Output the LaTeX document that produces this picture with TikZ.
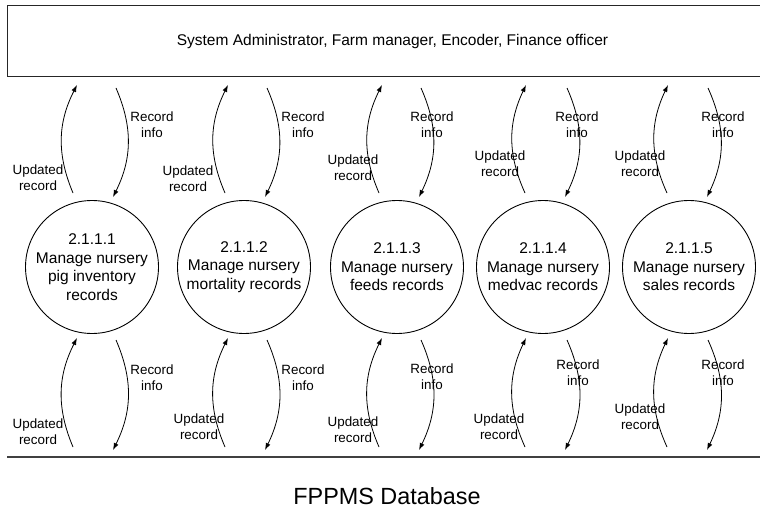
\documentclass[tikz,border=0pt]{standalone}
\usepackage{fontspec}
\setmainfont{Liberation Sans}
\usetikzlibrary{arrows.meta}
\begin{document}
\begin{tikzpicture}[x=1pt,y=1pt,
  proc/.style={circle,draw,line width=0.9pt,minimum size=133pt,inner sep=0pt,align=center,font=\fontsize{15.5}{18.5}\selectfont},
  flow/.style={line width=0.8pt,-{Latex[length=7pt,width=5pt]}},
  lbl/.style={align=center,font=\fontsize{13.4}{16}\selectfont,inner sep=0pt},
  boxline/.style={line width=1pt,black!85},
]
\useasboundingbox (0,0) rectangle (760,-508);
% external entity (box open to the right)
\coordinate (bx1) at (760,-6);
\coordinate (bx2) at (7,-6);
\coordinate (bx3) at (7,-77);
\coordinate (bx4) at (760,-77);
\draw[boxline] (bx1) -- (bx2) -- (bx3) -- (bx4);
\node[font=\fontsize{15.5}{18}\selectfont] (actors) at (392.5,-41) {System Administrator, Farm manager, Encoder, Finance officer};
% data store
\coordinate (ds1) at (7,-457);
\coordinate (ds2) at (760,-457);
\draw[line width=1.3pt,black!75] (ds1) -- (ds2);
\node[font=\fontsize{23.4}{28}\selectfont] (db) at (387,-496) {FPPMS Database};
% processes
\node[proc] (c1) at (92,-267) {2.1.1.1\\Manage nursery\\pig inventory\\records};
\node[proc] (c2) at (244,-267) {2.1.1.2\\Manage nursery\\mortality records};
\node[proc] (c3) at (397,-267) {2.1.1.3\\Manage nursery\\feeds records};
\node[proc] (c4) at (543,-267) {2.1.1.4\\Manage nursery\\medvac records};
\node[proc] (c5) at (689,-267) {2.1.1.5\\Manage nursery\\sales records};
% flows
\foreach \i/\a/\b/\c/\d in {1/-19/-15/24/21, 2/-19/-16/23/21, 3/-18/-15/24/22, 4/-18/-17/24/22, 5/-22/-21/19/18}{
  \path (c\i.center) ++(\a,74) coordinate (tus\i);
  \path (c\i.center) ++(\b,182) coordinate (tue\i);
  \path (c\i.center) ++(\c,179) coordinate (tds\i);
  \path (c\i.center) ++(\d,70) coordinate (tde\i);
  \path (c\i.center) ++(\a,-180) coordinate (bus\i);
  \path (c\i.center) ++(\b,-71) coordinate (bue\i);
  \path (c\i.center) ++(\c,-73) coordinate (bds\i);
  \path (c\i.center) ++(\d,-183) coordinate (bde\i);
  \draw[flow] (tus\i) to[bend left=25] (tue\i);
  \draw[flow] (tds\i) to[bend left=25] (tde\i);
  \draw[flow] (bus\i) to[bend left=25] (bue\i);
  \draw[flow] (bds\i) to[bend left=25] (bde\i);
}
% labels
\foreach \i/\x/\y in {1/152/-125, 2/303/-125, 3/432/-125, 4/577/-125, 5/723/-125}
  \node[lbl] (tri\i) at (\x,\y) {Record\\info};
\foreach \i/\x/\y in {1/38/-178, 2/188/-179, 3/353/-168, 4/500/-164, 5/640/-164}
  \node[lbl] (tur\i) at (\x,\y) {Updated\\record};
\foreach \i/\x/\y in {1/152/-378, 2/303/-378, 3/432/-377, 4/578/-373, 5/723/-373}
  \node[lbl] (bri\i) at (\x,\y) {Record\\info};
\foreach \i/\x/\y in {1/38/-432, 2/199/-427, 3/353/-430, 4/499/-427, 5/640/-417}
  \node[lbl] (bur\i) at (\x,\y) {Updated\\record};
\end{tikzpicture}
\end{document}
